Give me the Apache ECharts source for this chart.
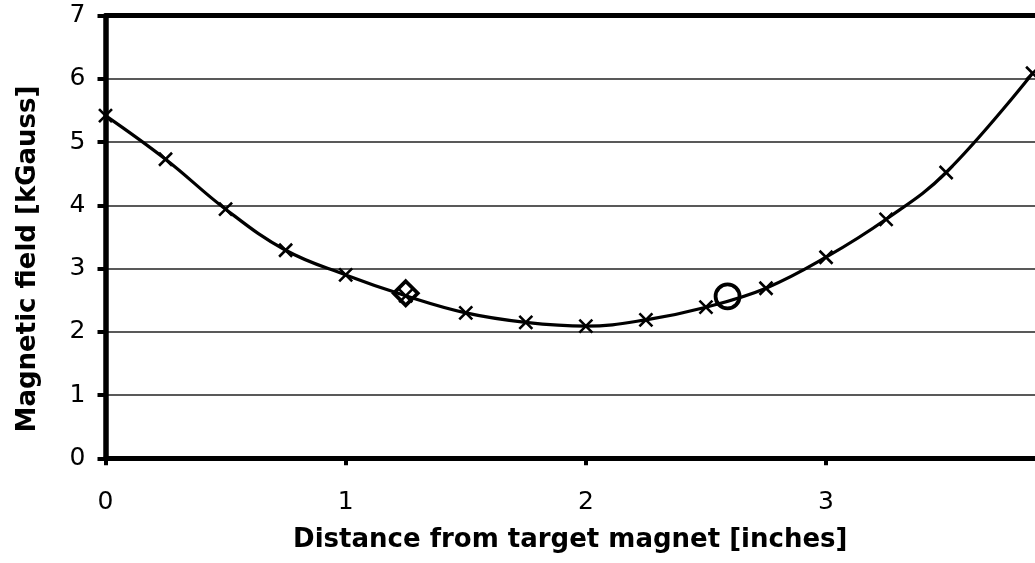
<!DOCTYPE html>
<html>
<head>
<meta charset="utf-8">
<script src="https://cdn.jsdelivr.net/npm/echarts@6/dist/echarts.min.js"></script>
<style>html,body{margin:0;padding:0;background:#fff;}#chart{width:1035px;height:563px;}</style>
</head>
<body>
<div id="chart"></div>
<script>
var distances = [0, 0.25, 0.5, 0.75, 1.0, 1.25, 1.5, 1.75, 2.0, 2.25, 2.5, 2.75, 3.0, 3.25, 3.5, 3.86];
var field = [5.42, 4.73, 3.94, 3.29, 2.90, 2.57, 2.30, 2.15, 2.09, 2.19, 2.39, 2.69, 3.18, 3.78, 4.52, 6.09];
var diamondPoint = [1.25, 2.61];
var circlePoint = [2.59, 2.56];
var xTicks = [0, 1, 2, 3];
var yTicks = [0, 1, 2, 3, 4, 5, 6, 7];
var xTitle = 'Distance from target magnet [inches]';
var yTitle = 'Magnetic field [kGauss]';

var lineData = distances.map(function (d, i) { return [d, field[i]]; });
var FONT = '"DejaVu Sans", "Liberation Sans", Arial, sans-serif';
var chart = echarts.init(document.getElementById('chart'));
chart.setOption({
  animation: false,
  backgroundColor: '#fff',
  grid: { left: 105.5, right: 0, top: 15.7, bottom: 104.7, containLabel: false },
  xAxis: [{
    type: 'value', position: 'bottom', min: 0, max: 3.87, interval: 1,
    name: xTitle, nameLocation: 'middle', nameGap: 69,
    nameTextStyle: { fontFamily: FONT, fontSize: 26, fontWeight: 'bold', color: '#000' },
    axisLine: { show: true, onZero: false, lineStyle: { color: '#000', width: 5 } },
    axisTick: { show: true, inside: false, length: 7, lineStyle: { color: '#000', width: 4 } },
    axisLabel: { fontFamily: FONT, fontSize: 25, color: '#000', margin: 32, showMaxLabel: false,
      formatter: function (v) { return xTicks.indexOf(v) >= 0 ? String(v) : ''; } },
    splitLine: { show: false }
  }, {
    type: 'value', position: 'top', min: 0, max: 3.87, interval: 1,
    axisLine: { show: true, onZero: false, lineStyle: { color: '#000', width: 5 } },
    axisTick: { show: false }, axisLabel: { show: false }, splitLine: { show: false }
  }],
  yAxis: {
    type: 'value', min: 0, max: 7, interval: 1,
    name: yTitle, nameLocation: 'middle', nameGap: 64, nameRotate: 90,
    nameTextStyle: { fontFamily: FONT, fontSize: 26, fontWeight: 'bold', color: '#000', padding: [0, 44, 0, 0] },
    axisLine: { show: true, onZero: false, lineStyle: { color: '#000', width: 5.5 } },
    axisTick: { show: true, inside: false, length: 8, lineStyle: { color: '#000', width: 4 } },
    axisLabel: { fontFamily: FONT, fontSize: 25, color: '#000', margin: 20,
      formatter: function (v) { return yTicks.indexOf(v) >= 0 ? String(v) : ''; } },
    splitLine: { show: true, lineStyle: { color: '#222', width: 1.5 } }
  },
  series: [{
    type: 'line', data: lineData, smooth: 0.4, clip: false,
    lineStyle: { color: '#000', width: 3.2 },
    symbol: 'path://M0,0L10,10M10,0L0,10', symbolSize: 13,
    itemStyle: { color: 'transparent', borderColor: '#000', borderWidth: 2.6, opacity: 1 },
    z: 3
  }, {
    type: 'scatter', data: [diamondPoint], symbol: 'diamond', symbolSize: 24,
    itemStyle: { color: 'transparent', borderColor: '#000', borderWidth: 3.8, opacity: 1 }, z: 4
  }, {
    type: 'scatter', data: [circlePoint], symbol: 'circle', symbolSize: 24,
    itemStyle: { color: 'transparent', borderColor: '#000', borderWidth: 3.8, opacity: 1 }, z: 4
  }]
});
</script>
</body>
</html>
